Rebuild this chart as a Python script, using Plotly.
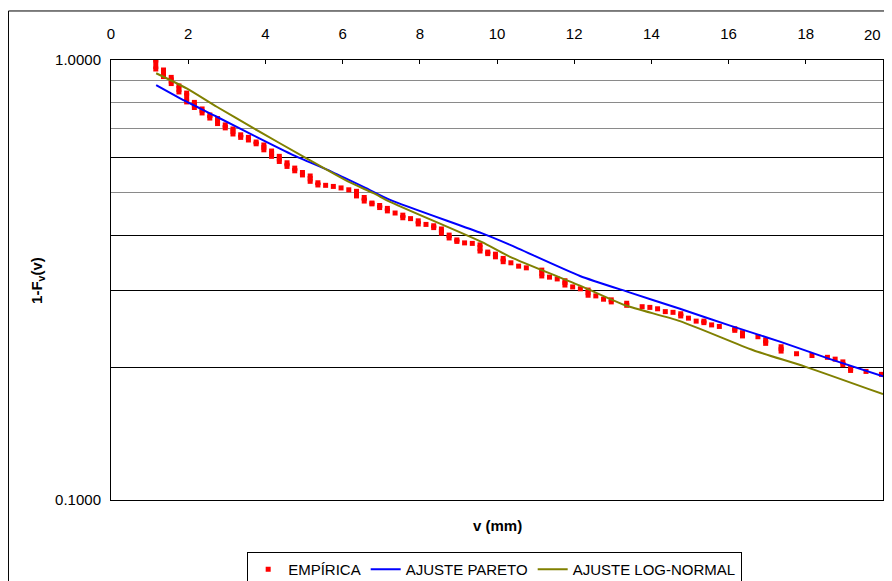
import plotly.graph_objects as go

# ---- Empirical survival points (each v value may hold several tied points: top..bottom) ----
emp_v = [1.16, 1.36, 1.56, 1.76, 1.96, 2.16, 2.36, 2.56, 2.76, 2.96,
         3.16, 3.36, 3.56, 3.76, 3.96, 4.16, 4.36, 4.56, 4.76, 4.96,
         5.16, 5.36, 5.56, 5.76, 5.96, 6.16, 6.36, 6.56, 6.76, 6.96,
         7.16, 7.36, 7.56, 7.76, 7.96, 8.16, 8.36, 8.56, 8.76, 8.96,
         9.16, 9.36, 9.56, 9.76, 9.96, 10.16, 10.36, 10.56, 10.76, 11.16,
         11.36, 11.56, 11.76, 11.96, 12.16, 12.36, 12.56, 12.76, 12.96, 13.36,
         13.76, 13.96, 14.16, 14.36, 14.56, 14.76, 14.96, 15.16, 15.36, 15.56,
         15.76, 16.16, 16.36, 16.76, 16.96, 17.36, 17.76, 18.16, 18.56, 18.76,
         18.96, 19.16, 19.56, 19.96]
emp_top = [1.000, 0.949, 0.913, 0.873, 0.841, 0.801, 0.774, 0.750, 0.736, 0.712,
           0.697, 0.676, 0.667, 0.651, 0.641, 0.621, 0.604, 0.584, 0.568, 0.555,
           0.545, 0.526, 0.519, 0.516, 0.512, 0.507, 0.503, 0.487, 0.473, 0.467,
           0.460, 0.449, 0.444, 0.436, 0.431, 0.423, 0.420, 0.413, 0.400, 0.390,
           0.384, 0.383, 0.380, 0.366, 0.362, 0.354, 0.346, 0.340, 0.337, 0.333,
           0.321, 0.318, 0.315, 0.305, 0.302, 0.300, 0.291, 0.286, 0.285, 0.280,
           0.275, 0.274, 0.272, 0.268, 0.267, 0.265, 0.259, 0.255, 0.255, 0.250,
           0.248, 0.245, 0.240, 0.235, 0.231, 0.223, 0.215, 0.213, 0.211, 0.209,
           0.206, 0.199, 0.196, 0.193]
emp_bot = [0.954, 0.917, 0.884, 0.846, 0.803, 0.780, 0.758, 0.738, 0.717, 0.701,
           0.679, 0.667, 0.658, 0.645, 0.625, 0.604, 0.588, 0.573, 0.560, 0.548,
           0.530, 0.520, 0.519, 0.516, 0.512, 0.507, 0.491, 0.478, 0.471, 0.462,
           0.454, 0.449, 0.438, 0.436, 0.424, 0.423, 0.416, 0.404, 0.394, 0.387,
           0.384, 0.383, 0.368, 0.363, 0.357, 0.348, 0.346, 0.340, 0.337, 0.323,
           0.321, 0.318, 0.308, 0.305, 0.302, 0.292, 0.291, 0.286, 0.282, 0.277,
           0.275, 0.274, 0.272, 0.268, 0.267, 0.262, 0.259, 0.255, 0.253, 0.250,
           0.248, 0.243, 0.236, 0.235, 0.227, 0.218, 0.215, 0.213, 0.211, 0.209,
           0.203, 0.197, 0.196, 0.193]

# ---- Pareto fit ----
par_v = [1.17, 1.92, 2.74, 3.69, 4.72, 5.72, 6.58, 7.23, 9.60, 10.34,
         12.15, 13.45, 14.74, 16.04, 17.33, 18.63, 20.0]
par_y = [0.877, 0.807, 0.743, 0.674, 0.608, 0.557, 0.513, 0.481, 0.404, 0.380,
         0.323, 0.296, 0.272, 0.249, 0.229, 0.209, 0.191]

# ---- Log-normal fit ----
ln_v = [1.17, 1.96, 2.74, 3.69, 5.03, 6.15, 6.80, 7.23, 9.60, 10.34,
        12.15, 13.32, 14.74, 16.64, 17.98, 20.0]
ln_y = [0.933, 0.862, 0.783, 0.700, 0.600, 0.529, 0.498, 0.476, 0.386, 0.357,
        0.307, 0.277, 0.255, 0.219, 0.201, 0.174]

x_ticks = list(range(0, 21, 2))
x_tick_text = [str(t) for t in x_ticks]

FONT = "Arial, Liberation Sans, sans-serif"

# marker points: top and bottom of each tied group
pts_x, pts_y = [], []
seg_x, seg_y = [], []
for v, t, b in zip(emp_v, emp_top, emp_bot):
    pts_x.append(v); pts_y.append(t)
    if b != t:
        pts_x.append(v); pts_y.append(b)
        seg_x += [v, v, None]; seg_y += [t, b, None]

fig = go.Figure()
fig.add_trace(go.Scatter(x=seg_x, y=seg_y, mode="lines",
                         line=dict(color="#FF0000", width=5),
                         showlegend=False, hoverinfo="skip"))
fig.add_trace(go.Scatter(x=pts_x, y=pts_y, mode="markers", name="EMPÍRICA",
                         marker=dict(symbol="square", size=5, color="#FF0000",
                                     line=dict(width=0))))
fig.add_trace(go.Scatter(x=par_v, y=par_y, mode="lines", name="AJUSTE PARETO",
                         line=dict(color="#0000FF", width=2, shape="spline", smoothing=0.6)))
fig.add_trace(go.Scatter(x=ln_v, y=ln_y, mode="lines", name="AJUSTE LOG-NORMAL",
                         line=dict(color="#808000", width=2, shape="spline", smoothing=0.6)))

fig.update_layout(
    width=876, height=573,
    margin=dict(l=103, r=1, t=52, b=81, autoexpand=False),
    paper_bgcolor="white", plot_bgcolor="white",
    font=dict(family=FONT, size=15, color="black"),
    xaxis=dict(range=[0, 20], side="top", tickvals=x_ticks,
               ticktext=x_tick_text[:-1] + [""],
               ticks="inside", ticklen=4, tickcolor="black",
               showline=True, linecolor="black", linewidth=1, mirror=True,
               showgrid=False, zeroline=False, ticklabelstandoff=14,
               tickfont=dict(size=15), automargin=False),
    yaxis=dict(type="log", range=[-1, 0],
               tickvals=[0.1, 0.2, 0.3, 0.4, 0.6, 1.0],
               ticktext=["0.1000", "", "", "", "", "1.0000"],
               ticks="", showgrid=True, gridcolor="#000000", gridwidth=1,
               minor=dict(tickvals=[0.5, 0.7, 0.8, 0.9], showgrid=True,
                          gridcolor="#8a8a8a", gridwidth=1, ticks=""),
               showline=True, linecolor="black", linewidth=1, mirror=True,
               zeroline=False, tickfont=dict(size=15), ticklabelstandoff=6,
               automargin=False),
    legend=dict(orientation="h", x=0.497, xanchor="center", y=-0.118, yanchor="top",
                bordercolor="black", borderwidth=1, bgcolor="white",
                font=dict(size=15), itemwidth=30, traceorder="normal"),
    annotations=[
        dict(text="<b>v (mm)</b>", xref="paper", yref="paper", x=0.5, y=-0.059,
             xanchor="center", yanchor="middle", showarrow=False,
             font=dict(size=15)),
        dict(text="<b>1-F<sub>v</sub>(v)</b>", xref="paper", yref="paper",
             x=-0.096, y=0.5, xanchor="center", yanchor="middle",
             textangle=-90, showarrow=False, font=dict(size=15)),
        # last x tick label, kept inside the visible page
        dict(text=x_tick_text[-1], xref="x", yref="paper", x=x_ticks[-1], y=1.057,
             xanchor="right", yanchor="middle", showarrow=False,
             font=dict(size=15)),
    ],
    shapes=[
        dict(type="rect", xref="paper", yref="paper",
             x0=-0.1328, x1=1.03, y0=-0.2, y1=1.1114,
             line=dict(color="black", width=1), fillcolor="rgba(0,0,0,0)",
             layer="below"),
    ],
)

fig.write_html("out.html")
